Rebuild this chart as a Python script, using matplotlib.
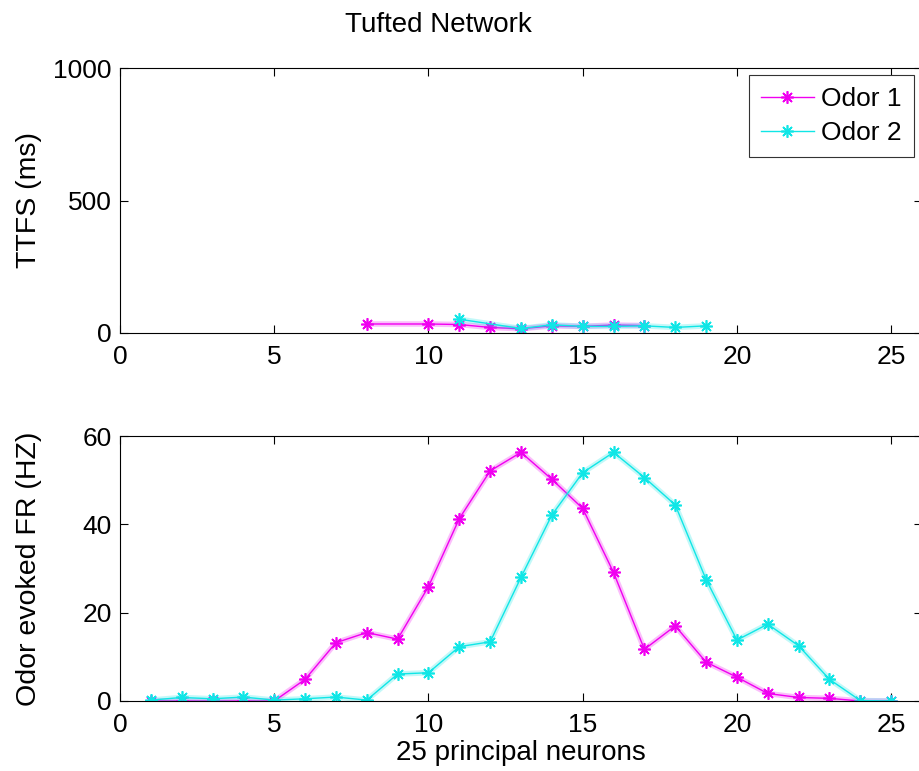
import numpy as np
import matplotlib.pyplot as plt

plt.rcParams['font.family'] = ['Liberation Sans', 'DejaVu Sans']

# TTFS (ms) per principal neuron, only neurons that fired
ttfs_x1 = [8, 10, 11, 12, 13, 14, 15, 16, 17]
ttfs_y1 = [34, 34, 32, 21, 16, 27, 25, 30, 28]
ttfs_x2 = [11, 13, 14, 15, 16, 17, 18, 19]
ttfs_y2 = [52, 17, 31, 25, 25, 27, 21, 27]

# Odor evoked firing rate (Hz), neurons 1..25
neurons = list(range(1, 26))
fr_odor1 = [0, 0, 0, 0, 0, 4.9, 13.2, 15.5, 14.0, 25.9, 41.3, 52.1, 56.3,
            50.2, 43.6, 29.1, 11.7, 17.0, 8.8, 5.4, 1.7, 0.8, 0.6, 0, 0]
fr_odor2 = [0.2, 0.8, 0.5, 0.9, 0.2, 0.5, 0.9, 0.2, 6.1, 6.4, 12.3, 13.4, 28.0,
            42.1, 51.7, 56.3, 50.6, 44.4, 27.5, 13.8, 17.4, 12.5, 4.9, 0.1, 0]

c1 = '#f000f0'
c2 = '#10e6e6'
mk = (8, 2, 0)

fig = plt.figure(figsize=(9.2, 7.71), dpi=100)
ax1 = fig.add_axes([120 / 920, 1 - 333 / 771, 802 / 920, 265 / 771])
ax2 = fig.add_axes([120 / 920, 1 - 701 / 771, 802 / 920, 265 / 771])


def draw(ax, x, y, color, label=None):
    ax.plot(x, y, color=color, lw=4, alpha=0.25, solid_joinstyle='round')
    ax.plot(x, y, color=color, lw=1, marker=mk, markersize=9,
            markeredgewidth=1.2, label=label)


draw(ax1, ttfs_x1, ttfs_y1, c1, 'Odor 1')
draw(ax1, ttfs_x2, ttfs_y2, c2, 'Odor 2')
draw(ax2, neurons, fr_odor1, c1)
draw(ax2, neurons, fr_odor2, c2)

ax1.set_ylim(0, 1000)
ax1.set_yticks([0, 500, 1000])
ax2.set_ylim(0, 60)
ax2.set_yticks([0, 20, 40, 60])
for ax in (ax1, ax2):
    ax.set_xlim(0, 26)
    ax.set_xticks([0, 5, 10, 15, 20, 25])
    ax.tick_params(direction='in', length=6, width=0.8, labelsize=19,
                   top=True, right=True)
    ax.tick_params(axis='x', pad=9)
    ax.tick_params(axis='y', pad=6)
    for s in ax.spines.values():
        s.set_linewidth(0.8)
    ax.spines['right'].set_visible(False)

ax1.set_ylabel('TTFS (ms)', fontsize=20.5)
ax2.set_ylabel('Odor evoked FR (HZ)', fontsize=20.5)
ax2.set_xlabel('25 principal neurons', fontsize=20, labelpad=2)
ax1.yaxis.set_label_coords(-0.097, 0.5)
ax2.yaxis.set_label_coords(-0.097, 0.5)

fig.text(438.5 / 920, 1 - 32 / 771, 'Tufted Network', fontsize=20,
         ha='center', va='baseline')

leg = ax1.legend(loc='upper right', bbox_to_anchor=(914 / 920, 1 - 75 / 771),
                 bbox_transform=fig.transFigure, fontsize=19, fancybox=False,
                 edgecolor='#333333', framealpha=1, handlelength=2.0,
                 handletextpad=0.3, borderpad=0.45, labelspacing=0.4,
                 borderaxespad=0)
leg.get_frame().set_linewidth(0.8)

fig.savefig('out.png', dpi=100, facecolor='white')
